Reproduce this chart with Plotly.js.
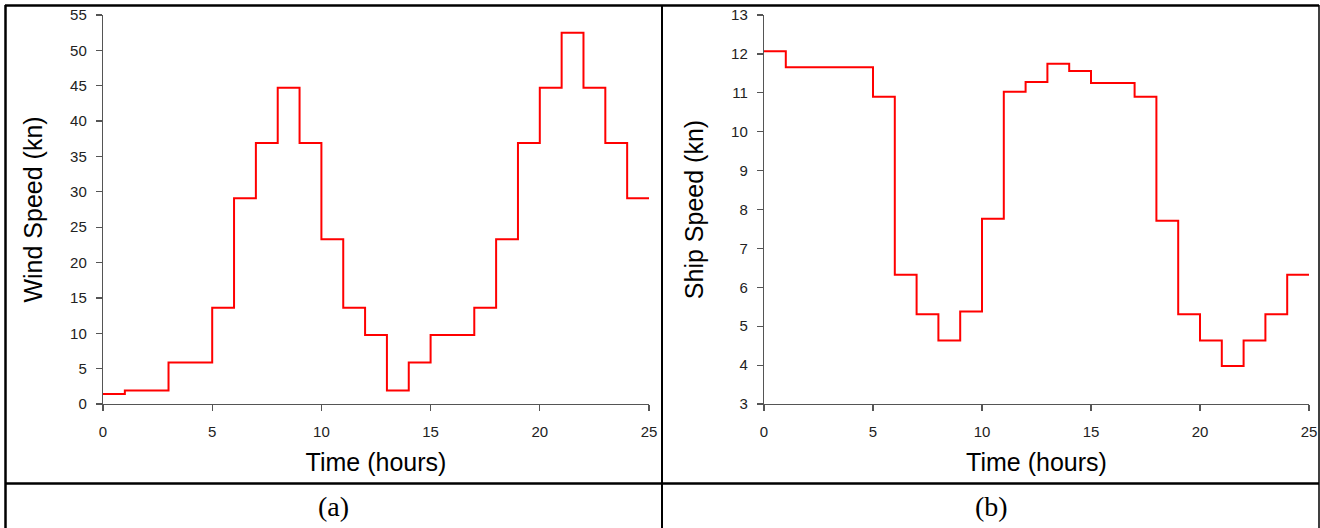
<!DOCTYPE html>
<html>
<head>
<meta charset="utf-8">
<script src="https://cdn.plot.ly/plotly-3.0.1.min.js"></script>
<style>
  html, body { margin: 0; padding: 0; background: #fff; }
  #chart { width: 1320px; height: 528px; }
</style>
</head>
<body>
<div id="chart"></div>
<script>
// Hourly start times (h) for each step
const hours = [0,1,2,3,4,5,6,7,8,9,10,11,12,13,14,15,16,17,18,19,20,21,22,23,24];
const endHour = 25;

// (a) Wind speed held constant over each hour (kn)
const windSpeed = [1.4, 1.9, 1.9, 5.85, 5.85, 13.6, 29.1, 36.9, 44.7, 36.9,
                   23.3, 13.6, 9.75, 1.9, 5.85, 9.75, 9.75, 13.6, 23.3, 36.9,
                   44.7, 52.5, 44.7, 36.9, 29.1];

// (b) Resulting ship speed over each hour (kn)
const shipSpeed = [12.07, 11.66, 11.66, 11.66, 11.66, 10.9, 6.32, 5.31, 4.63, 5.38,
                   7.76, 11.03, 11.28, 11.75, 11.56, 11.25, 11.25, 10.9, 7.71, 5.31,
                   4.63, 3.98, 4.63, 5.31, 6.32];

const xTicks = [0, 5, 10, 15, 20, 25];
const windTicks = [0, 5, 10, 15, 20, 25, 30, 35, 40, 45, 50, 55];
const shipTicks = [3, 4, 5, 6, 7, 8, 9, 10, 11, 12, 13];

const captions = ['(a)', '(b)'];
const xTitle = 'Time (hours)';
const yTitles = ['Wind Speed (kn)', 'Ship Speed (kn)'];

// Step traces: the last level is held until the end hour
function stepTrace(values, xa, ya) {
  return {
    x: hours.concat([endHour]),
    y: values.concat([values[values.length - 1]]),
    xaxis: xa, yaxis: ya,
    type: 'scatter', mode: 'lines',
    line: { shape: 'hv', color: '#ff0000', width: 2 },
    hoverinfo: 'x+y', showlegend: false
  };
}

const W = 1320, H = 528;
const px = v => v / W;
const py = v => 1 - v / H;

const axisCommon = {
  showline: true, linecolor: '#555', linewidth: 1.2,
  ticks: 'outside', ticklen: 6, tickcolor: '#555', tickwidth: 1.2,
  showgrid: false, zeroline: false,
  tickfont: { family: 'Liberation Sans, Arial, sans-serif', size: 15, color: '#222' },
  fixedrange: true
};
const titleFont = { family: 'Liberation Sans, Arial, sans-serif', size: 25, color: '#000' };

const layout = {
  width: W, height: H,
  margin: { l: 0, r: 0, t: 0, b: 0 },
  paper_bgcolor: '#fff', plot_bgcolor: '#fff',
  showlegend: false,
  xaxis: Object.assign({}, axisCommon, {
    domain: [px(103), px(649)], range: [0, 25], tickvals: xTicks, anchor: 'y',
    ticklabelstandoff: 8,
    title: { text: xTitle, font: titleFont, standoff: 14 }
  }),
  yaxis: Object.assign({}, axisCommon, {
    domain: [py(404), py(15)], range: [0, 55], tickvals: windTicks, anchor: 'x',
    ticklabelstandoff: 6,
    title: { text: yTitles[0], font: titleFont, standoff: 20 }
  }),
  xaxis2: Object.assign({}, axisCommon, {
    domain: [px(764), px(1309)], range: [0, 25], tickvals: xTicks, anchor: 'y2',
    ticklabelstandoff: 8,
    title: { text: xTitle, font: titleFont, standoff: 14 }
  }),
  yaxis2: Object.assign({}, axisCommon, {
    domain: [py(404), py(15)], range: [3, 13], tickvals: shipTicks, anchor: 'x2',
    ticklabelstandoff: 6,
    title: { text: yTitles[1], font: titleFont, standoff: 20 }
  }),
  shapes: [
    // table frame around the two panels and their captions
    { type: 'line', xref: 'paper', yref: 'paper', x0: px(5), x1: px(1319), y0: py(5.5), y1: py(5.5), line: { color: '#000', width: 2.5 } },
    { type: 'line', xref: 'paper', yref: 'paper', x0: px(5.5), x1: px(5.5), y0: py(5), y1: py(528), line: { color: '#000', width: 2.5 } },
    { type: 'line', xref: 'paper', yref: 'paper', x0: px(1319), x1: px(1319), y0: py(5), y1: py(528), line: { color: '#000', width: 1.5 } },
    { type: 'line', xref: 'paper', yref: 'paper', x0: px(662), x1: px(662), y0: py(5), y1: py(528), line: { color: '#000', width: 2 } },
    { type: 'line', xref: 'paper', yref: 'paper', x0: px(5), x1: px(1319), y0: py(483.5), y1: py(483.5), line: { color: '#000', width: 2.5 } }
  ],
  annotations: [
    { text: captions[0], xref: 'paper', yref: 'paper', x: px(333), y: py(506), showarrow: false,
      xanchor: 'center', yanchor: 'middle',
      font: { family: 'Liberation Serif, Times New Roman, serif', size: 28, color: '#000' } },
    { text: captions[1], xref: 'paper', yref: 'paper', x: px(992), y: py(506), showarrow: false,
      xanchor: 'center', yanchor: 'middle',
      font: { family: 'Liberation Serif, Times New Roman, serif', size: 28, color: '#000' } }
  ]
};

Plotly.newPlot('chart', [
  stepTrace(windSpeed, 'x', 'y'),
  stepTrace(shipSpeed, 'x2', 'y2')
], layout, { displayModeBar: false, staticPlot: true });
</script>
</body>
</html>
